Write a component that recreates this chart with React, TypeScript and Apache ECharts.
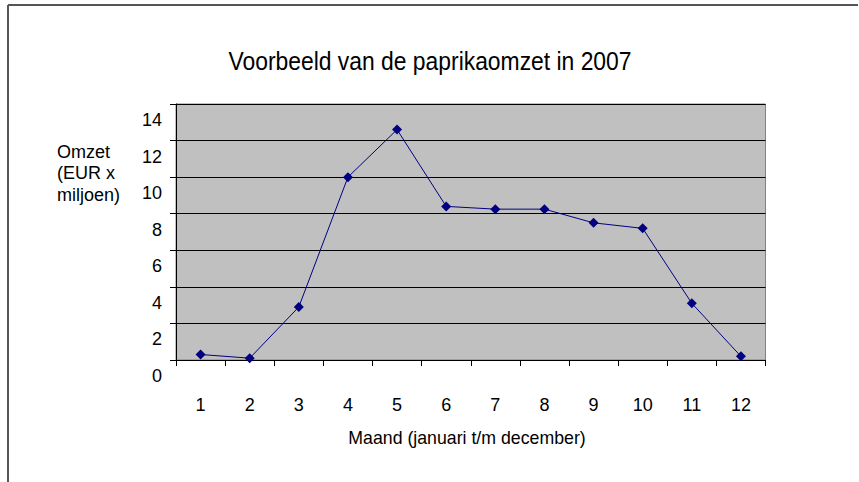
import React, { useEffect, useRef } from "react";
import * as echarts from "echarts";

const months = ["1", "2", "3", "4", "5", "6", "7", "8", "9", "10", "11", "12"];
const omzet = [0.3, 0.1, 2.9, 10.0, 12.6, 8.4, 8.25, 8.25, 7.5, 7.2, 3.1, 0.2];
const titleText = "Voorbeeld van de paprikaomzet in 2007";
const xAxisTitle = "Maand (januari t/m december)";
const yAxisTitle = "Omzet\n(EUR x\nmiljoen)";

const sans = "'Liberation Sans', Arial, sans-serif";

export default function App() {
  const ref = useRef<HTMLDivElement>(null);
  useEffect(() => {
    document.body.style.margin = "0";
    const chart = echarts.init(ref.current!, null, { renderer: "svg" });
    chart.setOption({
      animation: false,
      backgroundColor: "#ffffff",
      graphic: [
        {
          type: "line",
          shape: { x1: 8, y1: 5, x2: 858, y2: 5 },
          style: { stroke: "#555", lineWidth: 2 },
        },
        {
          type: "line",
          shape: { x1: 8, y1: 5, x2: 8, y2: 482 },
          style: { stroke: "#555", lineWidth: 2 },
        },
        {
          type: "text",
          x: 430,
          y: 61,
          scaleX: 0.915,
          style: {
            text: titleText,
            font: `25px ${sans}`,
            fill: "#000",
            align: "center",
            verticalAlign: "middle",
          },
        },
        {
          type: "text",
          x: 467,
          y: 438,
          scaleX: 0.985,
          style: {
            text: xAxisTitle,
            font: `18px ${sans}`,
            fill: "#000",
            align: "center",
            verticalAlign: "middle",
          },
        },
        {
          type: "text",
          left: 57,
          top: 141,
          style: {
            text: yAxisTitle,
            font: `18px ${sans}`,
            lineHeight: 21.5,
            fill: "#000",
          },
        },
      ],
      grid: { left: 176, right: 93.5, top: 104, bottom: 122, show: true, backgroundColor: "#c0c0c0", borderColor: "#808080", borderWidth: 1 },
      xAxis: {
        type: "category",
        data: months,
        boundaryGap: true,
        axisLine: { lineStyle: { color: "#000", width: 1 } },
        axisTick: { show: true, length: 6, lineStyle: { color: "#000" } },
        axisLabel: { margin: 36, fontFamily: sans, fontSize: 18, color: "#000" },
        splitLine: { show: false },
      },
      yAxis: {
        type: "value",
        min: 0,
        max: 14,
        interval: 2,
        axisLine: { show: true, lineStyle: { color: "#000", width: 1 } },
        axisTick: { show: true, length: 6, lineStyle: { color: "#000" } },
        axisLabel: {
          margin: 14,
          fontFamily: sans,
          fontSize: 18,
          color: "#000",
          verticalAlign: "top",
          lineHeight: 32,
        },
        splitLine: { show: true, lineStyle: { color: "#000", width: 1 } },
      },
      series: [
        {
          type: "line",
          data: omzet,
          symbol: "diamond",
          symbolSize: 10,
          showSymbol: true,
          lineStyle: { color: "#000080", width: 1 },
          itemStyle: { color: "#000080" },
        },
      ],
    });
    return () => chart.dispose();
  }, []);
  return <div ref={ref} style={{ position: "fixed", left: 0, top: 0, width: 859, height: 482 }} />;
}
